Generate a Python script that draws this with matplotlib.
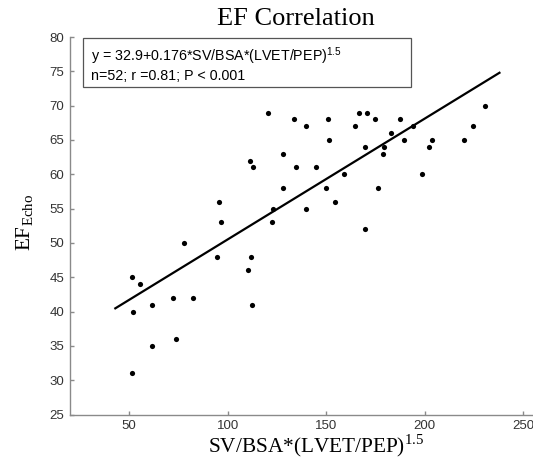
import matplotlib
matplotlib.use('Agg')
import matplotlib.pyplot as plt
from matplotlib.patches import Rectangle
import numpy as np

# EF correlation data (52 subjects)
sv_bsa = [51.4, 55.5, 52, 61.8, 72.2, 82.3, 73.6, 61.8, 51.7, 94.4, 110.3, 111.9, 112.6,
          77.8, 95.6, 96.8, 111.2, 112.9, 120.3, 133.7, 128, 134.6, 128, 123, 122.3,
          139.6, 150.9, 151.5, 144.8, 150, 139.6, 154.6, 158.9, 166.6, 171, 164.7, 175,
          169.7, 179.2, 179, 183.1, 187.5, 189.3, 193.9, 176.5, 169.5, 198.8, 202.4,
          203.9, 220, 224.8, 230.6]
ef_echo = [45, 44, 40, 41, 42, 42, 36, 35, 31, 48, 46, 48, 41,
           50, 56, 53, 62, 61, 69, 68, 63, 61, 58, 55, 53,
           67, 68, 65, 61, 58, 55, 56, 60, 69, 69, 67, 68,
           64, 64, 63, 66, 68, 65, 67, 58, 52, 60, 64,
           65, 65, 67, 70]

intercept = 32.9
slope = 0.176
fit_x = [43, 238]

plt.rcParams['mathtext.fontset'] = 'custom'
plt.rcParams['mathtext.rm'] = 'Liberation Serif'
plt.rcParams['mathtext.sf'] = 'Liberation Sans'

W, H = 533, 468
fig = plt.figure(figsize=(W / 100, H / 100), dpi=100)
fig.patch.set_facecolor('white')

# axes placed in pixel terms; right side runs past the edge of the image
x0, x1 = 20, 260
px_per_x = 1.97
left_px, bottom_px, top_px = 70, 414.5, 37
ax = fig.add_axes([left_px / W, 1 - bottom_px / H,
                   (x1 - x0) * px_per_x / W, (bottom_px - top_px) / H])

ax.scatter(sv_bsa, ef_echo, s=14, color='black', zorder=3, linewidths=0)
fx = np.array(fit_x)
ax.plot(fx, intercept + slope * fx, color='black', lw=1.6, zorder=2)

ax.set_xlim(x0, x1)
ax.set_ylim(25, 80)
ax.set_xticks([50, 100, 150, 200, 250])
ax.set_yticks(np.arange(25, 81, 5))

for side in ['top', 'right']:
    ax.spines[side].set_visible(False)
for side in ['left', 'bottom']:
    ax.spines[side].set_color('#8a8a8a')
    ax.spines[side].set_linewidth(1.0)
ax.tick_params(direction='in', length=3, width=1.0, color='#8a8a8a',
               labelcolor='#333333', labelsize=9.5, pad=4)
for lab in ax.get_xticklabels() + ax.get_yticklabels():
    lab.set_fontfamily('Liberation Sans')

# equation box (fixed size, drawn in figure pixels)
fig.add_artist(Rectangle((83.3 / W, 1 - 86.7 / H), (410.7 - 83.3) / W, (86.7 - 37.7) / H,
                         transform=fig.transFigure, facecolor='white',
                         edgecolor='#555555', linewidth=0.9, zorder=5))
fig.text(91 / W, 1 - 61 / H, 'y = 32.9+0.176*SV/BSA*(LVET/PEP)$^{\\mathsf{1.5}}$',
         ha='left', va='baseline', fontsize=10.3, family='Liberation Sans', zorder=6)
fig.text(91 / W, 1 - 80 / H, 'n=52; r =0.81; P < 0.001',
         ha='left', va='baseline', fontsize=10.3, family='Liberation Sans', zorder=6)

fig.text(296 / W, 1 - 19 / H, 'EF Correlation', ha='center', va='center',
         fontsize=19, family='Liberation Serif')
fig.text(316 / W, 1 - 446 / H, 'SV/BSA*(LVET/PEP)$^{1.5}$', ha='center',
         va='center', fontsize=15.3, family='Liberation Serif')
fig.text(25 / W, 1 - 222 / H, 'EF$_{\\mathrm{Echo}}$', ha='center', va='center',
         rotation=90, fontsize=15.3, family='Liberation Serif')

fig.savefig('out.png', dpi=100)
